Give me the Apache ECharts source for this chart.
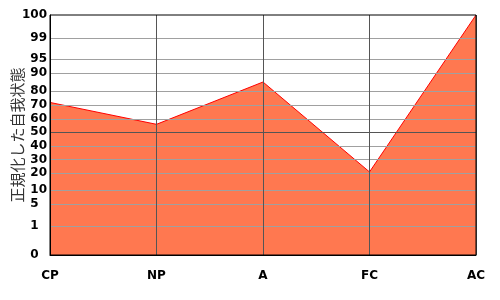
<!DOCTYPE html>
<html><head><meta charset="utf-8">
<script src="https://cdn.jsdelivr.net/npm/echarts@6/dist/echarts.min.js"></script>
<style>html,body{margin:0;padding:0;background:#fff}#c{width:500px;height:300px}</style>
</head><body><div id="c"></div>
<script>
// Categories and values (percentile-type normalized scores)
const categories = ['CP', 'NP', 'A', 'FC', 'AC'];
const values = [72, 56, 85, 21, 100];
// Axis tick labels and the axis' own (non-linear) scale units for each label
const tickLabels = [0, 1, 5, 10, 20, 30, 40, 50, 60, 70, 80, 90, 95, 99, 100];
const tickScale = [0, 28.7, 50.7, 64.7, 81.7, 95.3, 109, 122.7, 136, 149.7, 164, 182, 195.7, 216.7, 240];
const axisName = '正規化した自我状態';

function toScale(p) {
  for (let i = 1; i < tickLabels.length; i++) {
    if (p <= tickLabels[i]) {
      const t = (p - tickLabels[i - 1]) / (tickLabels[i] - tickLabels[i - 1]);
      return tickScale[i - 1] + t * (tickScale[i] - tickScale[i - 1]);
    }
  }
  return tickScale[tickScale.length - 1];
}
function labelFor(v) {
  let best = 0;
  for (let i = 0; i < tickScale.length; i++) if (Math.abs(tickScale[i] - v) < Math.abs(tickScale[best] - v)) best = i;
  const s = String(tickLabels[best]);
  return s.length === 1 ? s + '\u2007' : s;
}

const chart = echarts.init(document.getElementById('c'), null, {renderer: 'canvas'});
const labelFont = {fontFamily: 'DejaVu Sans', fontSize: 12, fontWeight: 'bold', color: '#000'};
chart.setOption({
  animation: false,
  grid: {left: 50, right: 24, top: 15, bottom: 45, containLabel: false, outerBoundsMode: 'none', show: true, z: 10, borderColor: '#000', borderWidth: 1, backgroundColor: 'transparent'},
  xAxis: {
    type: 'category', data: categories, boundaryGap: false, z: 6,
    axisLine: {lineStyle: {color: '#000', width: 1}},
    axisTick: {show: false},
    axisLabel: Object.assign({margin: 15}, labelFont),
    splitLine: {show: true, lineStyle: {color: '#555', width: 1}}
  },
  yAxis: {
    type: 'value', min: 0, max: 240, z: 6,
    name: axisName, nameLocation: 'middle', nameGap: 25, nameRotate: 90, nameMoveOverlap: false,
    nameTextStyle: {fontFamily: 'Noto Sans CJK JP', fontSize: 15, color: '#333'},
    axisLine: {show: true, lineStyle: {color: '#000', width: 1}},
    axisTick: {show: false},
    splitLine: {show: false},
    axisLabel: Object.assign({margin: 3, customValues: tickScale, formatter: labelFor, showMinLabel: true, showMaxLabel: true, hideOverlap: false}, labelFont)
  },
  series: [{
    type: 'line', data: values.map(toScale), symbol: 'none', z: 2,
    lineStyle: {color: '#ff0000', width: 1},
    areaStyle: {color: '#ff7850', opacity: 1},
    markLine: {
      silent: true, symbol: 'none', z: 5, label: {show: false},
      data: tickScale.slice(1, -1).map((v, i) => ({
        yAxis: v,
        lineStyle: {type: 'solid', width: 1, color: tickLabels[i + 1] === 50 ? '#555' : '#a0a0a0'}
      }))
    }
  }]
});
</script></body></html>
